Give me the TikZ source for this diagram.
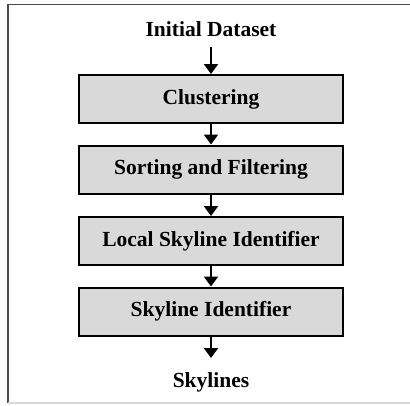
\documentclass[tikz,border=0pt]{standalone}
\usepackage{fontspec}
\setmainfont{Liberation Serif}
\usetikzlibrary{arrows.meta}
\definecolor{boxfill}{HTML}{D9D9D9}
\definecolor{framegray}{HTML}{4A4A4A}
\definecolor{bottomgray}{HTML}{D8D8D8}
\tikzset{
  stepbox/.style={draw=black, line width=2pt, fill=boxfill, minimum width=264pt, minimum height=48pt, inner sep=0pt, font=\fontsize{21.5}{24}\selectfont\bfseries},
  label/.style={inner sep=0pt, font=\fontsize{21.5}{24}\selectfont\bfseries},
  arr/.style={line width=2pt, -{Triangle[width=14pt,length=10pt]}},
  frameline/.style={framegray, line width=1.6pt}
}
\begin{document}
\begin{tikzpicture}[x=1pt,y=-1pt]
\useasboundingbox (0,0) rectangle (410,405);
\coordinate (fbl) at (8,403);
\coordinate (ftl) at (8,4.5);
\coordinate (ftr) at (410,4.5);
\coordinate (fbr) at (410,403);
\draw[frameline] (fbl) -- (ftl) -- (ftr);
\draw[bottomgray, line width=1.5pt] (fbl) -- (fbr);
\node[label] (init) at (211,29) {Initial Dataset};
\node[stepbox] (clu) at (211,99) {Clustering};
\node[stepbox] (sort) at (211,169.5) {Sorting and Filtering};
\node[stepbox] (local) at (211,241) {Local Skyline Identifier};
\node[stepbox] (sky) at (211,311.5) {Skyline Identifier};
\node[label] (out) at (211,382) {Skylines};
\coordinate (outtop) at (211,358);
\draw[arr, shorten <=10pt] (init) -- (clu);
\draw[arr] (clu) -- (sort);
\draw[arr] (sort) -- (local);
\draw[arr] (local) -- (sky);
\draw[arr] (sky) -- (outtop);
\end{tikzpicture}
\end{document}
